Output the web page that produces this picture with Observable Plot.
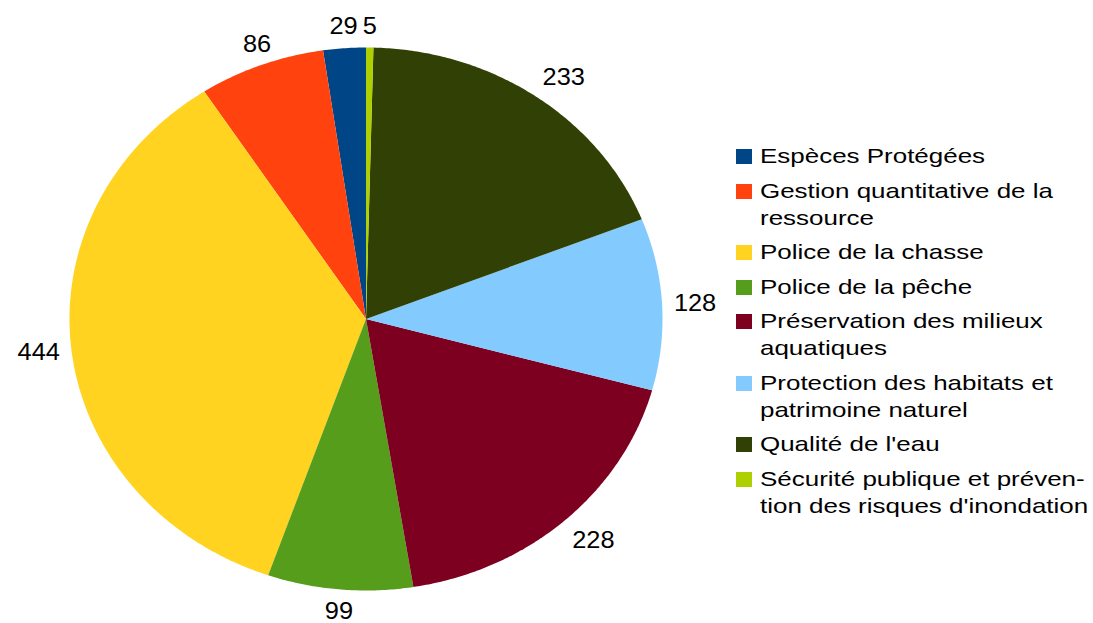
<!DOCTYPE html>
<html>
<head>
<meta charset="utf-8">
<script src="https://cdn.jsdelivr.net/npm/d3@7"></script>
<script src="https://cdn.jsdelivr.net/npm/@observablehq/plot@0.6"></script>
<style>
  html, body { margin: 0; padding: 0; background: #fff; }
  #wrap { position: relative; width: 1093px; height: 623px; font-family: "Liberation Sans", Arial, sans-serif; }
  #legend { position: absolute; left: 736px; top: 142px; font-size: 21px; color: #000; }
  .item { position: relative; padding-left: 24px; line-height: 27px; margin-bottom: 7.5px; }
  .txt { display: inline-block; transform: scaleX(1.236); transform-origin: 0 0; white-space: nowrap; }
  .sw { position: absolute; left: 0; top: 7px; width: 16px; height: 15px; }
</style>
</head>
<body>
<div id="wrap"></div>
<script>
// Categories in legend order
const categories = [
  "Espèces Protégées",
  "Gestion quantitative de la ressource",
  "Police de la chasse",
  "Police de la pêche",
  "Préservation des milieux aquatiques",
  "Protection des habitats et patrimoine naturel",
  "Qualité de l'eau",
  "Sécurité publique et prévention des risques d'inondation"
];
const legendLines = [
  ["Espèces Protégées"],
  ["Gestion quantitative de la", "ressource"],
  ["Police de la chasse"],
  ["Police de la pêche"],
  ["Préservation des milieux", "aquatiques"],
  ["Protection des habitats et", "patrimoine naturel"],
  ["Qualité de l'eau"],
  ["Sécurité publique et préven-", "tion des risques d'inondation"]
];
const values = [29, 86, 444, 99, 228, 128, 233, 5];
const colors = ["#004586", "#ff420e", "#ffd320", "#579d1c", "#7e0021", "#83caff", "#314004", "#aecf00"];

// Slices go counterclockwise from 12 o'clock in legend order
const total = d3.sum(values);
let acc = 0;
const slices = categories.map((c, i) => {
  const a1 = -acc / total * 2 * Math.PI;
  acc += values[i];
  const a0 = -acc / total * 2 * Math.PI;
  return {cat: c, value: values[i], a0, a1, mid: (a0 + a1) / 2};
});

// polygon vertices for each slice in unit coordinates
const pts = [];
for (const s of slices) {
  pts.push({cat: s.cat, x: 0, y: 0});
  const n = Math.max(4, Math.ceil((s.a1 - s.a0) / (Math.PI / 360)));
  for (let k = 0; k <= n; k++) {
    const a = s.a0 + (s.a1 - s.a0) * k / n;
    pts.push({cat: s.cat, x: Math.sin(a), y: Math.cos(a)});
  }
  pts.push({cat: s.cat, x: 0, y: 0});
}

// label positions
const R = 1.04;
const labels = slices.map(s => {
  const sx = Math.sin(s.mid), cy = Math.cos(s.mid);
  const textAnchor = Math.abs(sx) < 0.5 ? "middle" : (sx > 0 ? "start" : "end");
  const lineAnchor = Math.abs(cy) < 0.3 ? "middle" : (cy > 0 ? "bottom" : "top");
  return {label: String(s.value), x: R * sx, y: R * cy, textAnchor, lineAnchor};
});
const groups = d3.groups(labels, d => d.textAnchor + "|" + d.lineAnchor);
const dyFor = {bottom: -3, middle: 0, top: 2};

const plot = Plot.plot({
  width: 1093,
  height: 623,
  margin: 0,
  x: {domain: [-1, 1], range: [69, 662], axis: null},
  y: {domain: [-1, 1], range: [590, 47], axis: null},
  color: {domain: categories, range: colors},
  style: {fontFamily: "Liberation Sans, Arial, sans-serif", background: "#fff"},
  marks: [
    Plot.line(pts, {x: "x", y: "y", z: "cat", fill: "cat", stroke: "none", curve: "linear"}),
    ...groups.map(([key, arr]) => {
      const [ta, la] = key.split("|");
      return Plot.text(arr, {x: "x", y: "y", text: "label", textAnchor: ta, lineAnchor: la, dy: dyFor[la], fontSize: 23.5, fill: "#000"});
    })
  ]
});
// horizontally widen label glyphs like the original rendering
d3.select(plot).selectAll("text").each(function() {
  const t = this.getAttribute("transform") || "";
  this.setAttribute("transform", t + " scale(1.08,1)");
});

const wrap = document.getElementById("wrap");
wrap.appendChild(plot);
const legend = document.createElement("div");
legend.id = "legend";
legendLines.forEach((lines, i) => {
  const it = document.createElement("div");
  it.className = "item";
  const sw = document.createElement("div");
  sw.className = "sw";
  sw.style.background = colors[i];
  it.appendChild(sw);
  const span = document.createElement("span");
  span.className = "txt";
  lines.forEach((t, j) => {
    if (j) span.appendChild(document.createElement("br"));
    span.appendChild(document.createTextNode(t));
  });
  it.appendChild(span);
  legend.appendChild(it);
});
wrap.appendChild(legend);
</script>
</body>
</html>
